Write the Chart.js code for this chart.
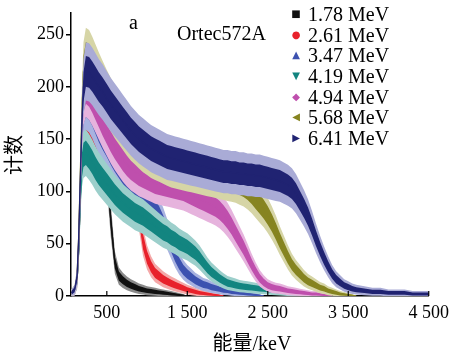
<!DOCTYPE html>
<html>
<head>
<meta charset="utf-8">
<script src="https://cdn.jsdelivr.net/npm/chart.js@4.4.1/dist/chart.umd.min.js"></script>
<style>
body { margin: 0; background: #fff; }
#wrap { position: relative; width: 455px; height: 353px; background: #fff; }
#wrap canvas { position: absolute; left: 0; top: 0; }
.txt { position: absolute; font-family: "Liberation Serif", serif; font-size: 20px; color: #000; white-space: nowrap; line-height: 1; }
.cjk { font-family: "Noto Sans CJK SC", sans-serif; }
#legend { position: absolute; left: 288px; top: 4px; }
#legend .row { position: relative; height: 20.7px; }
#legend .mk { position: absolute; left: 2px; width: 12px; top: 0; height: 20.7px; line-height: 20.7px; text-align: center; font-family: "DejaVu Sans", sans-serif; font-size: 10px; }
#legend .nm { position: absolute; left: 20px; top: 0; height: 20.7px; line-height: 20.7px; font-family: "Liberation Serif", serif; font-size: 20px; white-space: nowrap; }
</style>
</head>
<body>
<div id="wrap">
  <canvas id="spectrumChart"></canvas>
  <div class="txt" style="left:129px; top:12px;">a</div>
  <div class="txt" style="left:177px; top:23px;">Ortec572A</div>
  <div id="legend"></div>
  <div class="txt cjk" style="left:13px; top:155px; transform: translate(-50%,-50%) rotate(-90deg);">计数</div>
  <div class="txt" style="left:252px; top:342px; transform: translate(-50%,-50%);"><span class="cjk">能量</span>/keV</div>
</div>
<script>
// energy grid (keV)
const energy = [60, 100, 130, 150, 170, 190, 210, 240, 280, 320,
    360, 400, 450, 500, 550, 600, 650, 700, 750, 800,
    850, 900, 950, 1000, 1050, 1100, 1150, 1200, 1250, 1300,
    1350, 1400, 1450, 1500, 1550, 1600, 1650, 1700, 1750, 1800,
    1850, 1900, 1950, 2000, 2050, 2100, 2150, 2200, 2250, 2300,
    2350, 2400, 2450, 2500, 2550, 2600, 2650, 2700, 2750, 2800,
    2850, 2900, 2950, 3000, 3050, 3100, 3150, 3200, 3250, 3300,
    3350, 3400, 3450, 3500, 3550, 3600, 3700, 3800, 3900, 4000,
    4100, 4200, 4300, 4400, 4500];

// counts per energy
const counts178 = [3, 5, 14, 44, 95, 140, 160, 165, 163, 158,
    152, 146, 138, 125, 72, 32, 19, 15, 12, 10,
    8.5, 7, 6, 5, 4.5, 4, 3.5, 3, 2.5, 2,
    1.5, 1, 0.5, 0];
const counts261 = [3, 5, 14, 44, 95, 135, 147, 150, 149, 147,
    145, 142, 139, 135, 130, 125, 119, 113, 107, 100,
    93, 80, 52, 37, 28, 22, 19, 16, 14, 12,
    10.5, 9, 7.5, 6, 5, 4, 3, 2.5, 2, 1.5,
    1, 0.5, 0];
const counts347 = [3, 5, 15, 48, 100, 150, 178, 185, 182, 176,
    168, 160, 152, 145, 137, 130, 124, 118, 113, 108,
    104, 100, 96, 92, 88, 83, 77, 69, 59, 49,
    39, 31, 25, 21, 18, 15, 13, 11, 10, 8.5,
    7.5, 6.5, 5.5, 5, 4, 3.5, 3, 2.5, 2, 1.5,
    1, 0.5, 0];
const counts419 = [3, 5, 14, 42, 90, 125, 135, 137, 133, 128,
    122, 117, 112, 107, 102, 97, 93, 89, 86, 83,
    80, 78, 76, 73, 70, 67, 64, 61, 59, 56,
    54, 51, 49, 47, 44, 41, 37, 32, 27, 23,
    20, 17, 14.5, 12.5, 11.5, 10.5, 9.5, 9, 8.5, 8,
    7.5, 7, 6.5, 6, 5.5, 5, 4.5, 4, 3.5, 3,
    2.5, 2, 1.5, 1, 0.5, 0];
const counts494 = [3, 5, 16, 50, 105, 160, 190, 198, 195, 189,
    182, 175, 166, 158, 150, 143, 137, 131, 126, 122,
    119, 116, 114, 112, 110, 108, 107, 106, 105, 104,
    103, 102, 101, 99, 97, 95, 93, 91, 89, 87,
    85, 82, 78, 73, 67, 60, 53, 46, 38, 30,
    23, 17, 13, 10, 8.5, 7.5, 7, 6, 5, 4.5,
    4, 3.5, 3, 2.5, 2, 2, 1.5, 1, 0.5, 0];
const counts568 = [3, 6, 18, 55, 115, 175, 215, 228, 226, 220,
    213, 206, 198, 190, 183, 176, 170, 164, 158, 153,
    149, 145, 141, 138, 135, 133, 131, 129, 127, 125,
    124, 123, 122, 121, 120, 119, 118, 117, 116, 115,
    114, 113, 112, 111, 110, 109, 107, 105, 102, 98,
    93, 88, 83, 77, 70, 62, 53, 45, 37, 30,
    25, 21, 17, 14, 12, 10, 8, 7, 5, 4,
    3, 2, 1.5, 1, 0.5, 0];
const counts641 = [3, 6, 18, 55, 110, 165, 200, 215, 214, 210,
    205, 200, 195, 189, 183, 178, 173, 168, 163, 158,
    154, 150, 147, 144, 141, 139, 137, 135, 133, 132,
    131, 130, 129, 128, 127, 126, 125, 124, 123, 122,
    121, 120, 119, 119, 118, 118, 117, 117, 116, 116,
    115, 115, 114, 113, 112, 111, 110, 108, 106, 103,
    98, 91, 84, 76, 66, 55, 45, 36, 28, 21,
    16, 13, 10, 8.5, 7, 6, 5, 4, 4, 3,
    3, 3, 2, 2, 2];

const seriesNames = ['1.78 MeV', '2.61 MeV', '3.47 MeV', '4.19 MeV', '4.94 MeV', '5.68 MeV', '6.41 MeV'];
const seriesCounts = [counts178, counts261, counts347, counts419, counts494, counts568, counts641];
const seriesColors = ['#111111', '#e8222c', '#3d52b0', '#138580', '#bf4fad', '#868420', '#202372'];
const errColors = ['#8a8a8a', '#f4a8a8', '#a8b2e0', '#9ccfcb', '#e6b3dd', '#d6d5a6', '#a9abd6'];
const seriesMarks = ['■', '●', '▲', '▼', '◆', '◀', '▶'];

const xTickValues = [500, 1500, 2500, 3500, 4500];

document.addEventListener('DOMContentLoaded', () => {
    const legend = document.getElementById('legend');
    seriesNames.forEach((name, i) => {
        const row = document.createElement('div');
        row.className = 'row';
        row.innerHTML = '<span class="mk" style="color:' + seriesColors[i] + '">' + seriesMarks[i] + '</span><span class="nm">' + name + '</span>';
        legend.appendChild(row);
    });

    // error band = +-k*sqrt(N) around each spectrum
    const band = (counts, k) => counts.map((c, j) => ({ x: energy[j], y: c + k * Math.sqrt(c) }));
    const bandLow = (counts, k) => counts.map((c, j) => ({ x: energy[j], y: c - k * Math.sqrt(c) }));
    const flat = { pointRadius: 0, borderWidth: 0, tension: 0 };

    const datasets = [];
    seriesCounts.forEach((counts, i) => {
        const base = 100 - i * 5;
        datasets.push({ ...flat, data: band(counts, 1.9), fill: '+1', backgroundColor: errColors[i], order: base });
        datasets.push({ ...flat, data: bandLow(counts, 1.9), fill: false, order: base - 1 });
        datasets.push({ ...flat, data: band(counts, 1.0), fill: '+1', backgroundColor: seriesColors[i], order: base - 2 });
        datasets.push({ ...flat, data: bandLow(counts, 1.0), fill: false, order: base - 3 });
        datasets.push({
            data: counts.map((c, j) => ({ x: energy[j], y: c })),
            borderColor: seriesColors[i], borderWidth: 1.3, pointRadius: 0, tension: 0, fill: false, order: base - 4
        });
    });

    const innerTicks = {
        id: 'innerTicks',
        afterDatasetsDraw(chart) {
            const ctx = chart.ctx;
            const x = chart.scales.x;
            const bottom = chart.chartArea.bottom;
            ctx.save();
            ctx.strokeStyle = '#000';
            ctx.lineWidth = 1.2;
            xTickValues.forEach(v => {
                const px = x.getPixelForValue(v);
                ctx.beginPath();
                ctx.moveTo(px, bottom);
                ctx.lineTo(px, bottom - 5);
                ctx.stroke();
            });
            ctx.restore();
        }
    };

    const ctx = document.getElementById('spectrumChart').getContext('2d');

    new Chart(ctx, {
        type: 'line',
        data: { datasets },
        options: {
            responsive: true,
            maintainAspectRatio: false,
            animation: false,
            layout: { padding: { top: 5, right: 23, left: 0, bottom: 0 } },
            plugins: { legend: false, tooltip: { enabled: false } },
            scales: {
                x: {
                    type: 'linear',
                    min: 55,
                    max: 4500,
                    offset: false,
                    z: 1,
                    afterBuildTicks: axis => { axis.ticks = xTickValues.map(v => ({ value: v })); },
                    afterFit: axis => { axis.height = 57; },
                    ticks: {
                        autoSkip: false,
                        maxRotation: 0,
                        padding: 6,
                        color: '#000',
                        font: { family: 'Liberation Serif', size: 18 },
                        callback: v => String(v).replace(/\B(?=(\d{3})+(?!\d))/g, ' ')
                    },
                    grid: { drawOnChartArea: false, drawTicks: false },
                    border: { color: '#000', width: 1.5 }
                },
                y: {
                    min: 0,
                    max: 271,
                    z: 1,
                    afterFit: axis => { axis.width = 71; },
                    ticks: {
                        stepSize: 50,
                        includeBounds: false,
                        padding: 2,
                        color: '#000',
                        font: { family: 'Liberation Serif', size: 18 }
                    },
                    grid: { drawOnChartArea: false, drawTicks: true, tickLength: 5, color: '#000', lineWidth: 1.5 },
                    border: { color: '#000', width: 1.5 }
                }
            }
        },
        plugins: [innerTicks]
    });
});
</script>
</body>
</html>
